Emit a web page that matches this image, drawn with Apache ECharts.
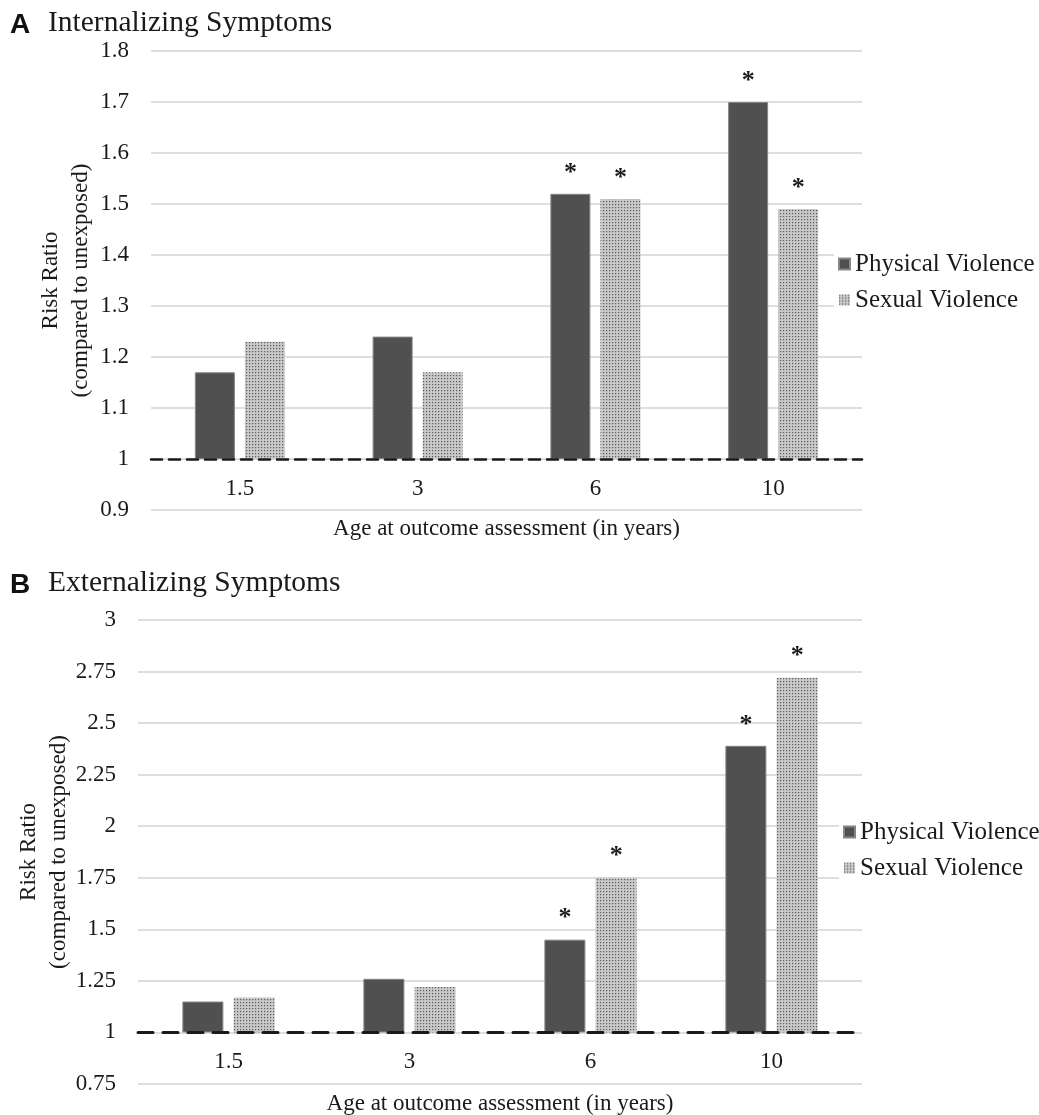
<!DOCTYPE html>
<html>
<head>
<meta charset="utf-8">
<script src="https://cdn.jsdelivr.net/npm/echarts@6/dist/echarts.min.js"></script>
<style>
html,body{margin:0;padding:0;background:#fff;}
#chart{width:1039px;height:1115px;}
</style>
</head>
<body>
<div id="chart"></div>
<script>
// ---------- data ----------
const categories = ['1.5', '3', '6', '10'];
const seriesNames = ['Physical Violence', 'Sexual Violence'];
const baseline = 1;

const intPhysical = [1.17, 1.24, 1.52, 1.70];
const intSexual   = [1.23, 1.17, 1.51, 1.49];
const intPhysicalSig = [false, false, true, true];
const intSexualSig   = [false, false, true, true];
const intTicks = ['0.9', '1', '1.1', '1.2', '1.3', '1.4', '1.5', '1.6', '1.7', '1.8'];

const extPhysical = [1.15, 1.26, 1.45, 2.39];
const extSexual   = [1.17, 1.22, 1.75, 2.72];
const extPhysicalSig = [false, false, true, true];
const extSexualSig   = [false, false, true, true];
const extTicks = ['0.75', '1', '1.25', '1.5', '1.75', '2', '2.25', '2.5', '2.75', '3'];

// ---------- helpers ----------
const SERIF = '"Liberation Serif", "Times New Roman", serif';
const SANS = '"Liberation Sans", Arial, sans-serif';

function makePattern() {
  const c = document.createElement('canvas');
  c.width = 3; c.height = 3;
  const g = c.getContext('2d');
  g.fillStyle = '#c9c9c9'; g.fillRect(0, 0, 3, 3);
  g.fillStyle = '#adadad'; g.fillRect(1, 0, 1, 1); g.fillRect(0, 1, 1, 1);
  g.fillStyle = '#5e5e5e'; g.fillRect(0, 0, 1, 1);
  return c;
}
const pattern = { image: makePattern(), repeat: 'repeat' };

function shift(arr) { return arr.map(v => +(v - baseline).toFixed(4)); }
function tickFormatter(ticks, min, interval) {
  return v => ticks[Math.round((v - min) / interval)] ?? '';
}
function starLabel(sig) {
  return {
    show: true, position: 'top', distance: 8,
    formatter: p => (sig[p.dataIndex] ? '*' : ''),
    fontFamily: SERIF, fontSize: 26, fontWeight: 'bold', color: '#1a1a1a'
  };
}

const intMin = -0.1, intMax = 0.8, intInt = 0.1;
const extMin = -0.25, extMax = 2, extInt = 0.25;

const chart = echarts.init(document.getElementById('chart'), null, { renderer: 'canvas' });

function xAxisCfg(gridIndex, dash, width, nameGap) {
  return {
    type: 'category', gridIndex, data: categories, position: 'bottom',
    axisTick: { show: false },
    axisLine: { show: true, onZero: false, lineStyle: { color: '#1a1a1a', type: dash, width } },
    axisLabel: { fontFamily: SERIF, fontSize: 23, color: '#1a1a1a', margin: 18 },
    name: 'Age at outcome assessment (in years)',
    nameLocation: 'middle', nameGap, nameMoveOverlap: false,
    nameTextStyle: { fontFamily: SERIF, fontSize: 23, color: '#1a1a1a' },
    z: 5
  };
}
function yAxisCfg(gridIndex, min, max, interval, ticks, nameGap) {
  return {
    type: 'value', gridIndex, min, max, interval,
    axisLine: { show: false }, axisTick: { show: false },
    splitLine: { lineStyle: { color: '#d3d3d3', width: 1.6 } },
    axisLabel: { fontFamily: SERIF, fontSize: 23, color: '#1a1a1a', margin: 22,
                 formatter: tickFormatter(ticks, min, interval) },
    name: 'Risk Ratio\n(compared to unexposed)',
    nameLocation: 'middle', nameGap, nameRotate: 90, nameMoveOverlap: false,
    nameTextStyle: { fontFamily: SERIF, fontSize: 23, color: '#1a1a1a', lineHeight: 30 }
  };
}
function legendCfg(top, left) {
  return {
    data: seriesNames, orient: 'vertical', left, top,
    icon: 'rect', itemWidth: 11, itemHeight: 11, itemGap: 10,
    backgroundColor: '#fff', padding: [2, 4, 2, 4],
    textStyle: { fontFamily: SERIF, fontSize: 25, color: '#1a1a1a', lineHeight: 26 }
  };
}
function physicalStyle() {
  return { color: '#505050', borderColor: '#858585', borderWidth: 1 };
}

chart.setOption({
  animation: false,
  backgroundColor: '#fff',
  grid: [
    { left: 151, top: 51, width: 711, height: 459, outerBoundsMode: 'none', containLabel: false },
    { left: 138, top: 620, width: 724, height: 464, outerBoundsMode: 'none', containLabel: false }
  ],
  xAxis: [xAxisCfg(0, [11, 7], 2.6, 58), xAxisCfg(1, [15, 10], 3, 60)],
  yAxis: [
    yAxisCfg(0, intMin, intMax, intInt, intTicks, 55),
    yAxisCfg(1, extMin, extMax, extInt, extTicks, 64)
  ],
  legend: [legendCfg(249, 834), legendCfg(817, 839)],
  series: [
    { name: seriesNames[0], type: 'bar', xAxisIndex: 0, yAxisIndex: 0,
      data: shift(intPhysical), barWidth: 40, barGap: '25%',
      itemStyle: physicalStyle(), label: starLabel(intPhysicalSig) },
    { name: seriesNames[1], type: 'bar', xAxisIndex: 0, yAxisIndex: 0,
      data: shift(intSexual), barWidth: 40, barGap: '25%',
      itemStyle: { color: pattern }, label: starLabel(intSexualSig) },
    { name: seriesNames[0], type: 'bar', xAxisIndex: 1, yAxisIndex: 1,
      data: shift(extPhysical), barWidth: 41, barGap: '25%',
      itemStyle: physicalStyle(), label: starLabel(extPhysicalSig) },
    { name: seriesNames[1], type: 'bar', xAxisIndex: 1, yAxisIndex: 1,
      data: shift(extSexual), barWidth: 41, barGap: '25%',
      itemStyle: { color: pattern }, label: starLabel(extSexualSig) }
  ],
  graphic: [
    { type: 'text', left: 10, top: 11, style: { text: 'A', font: 'bold 28px ' + SANS, fill: '#111' } },
    { type: 'text', left: 48, top: 8, style: { text: 'Internalizing Symptoms', font: '29.5px ' + SERIF, fill: '#1a1a1a' } },
    { type: 'text', left: 10, top: 571, style: { text: 'B', font: 'bold 28px ' + SANS, fill: '#111' } },
    { type: 'text', left: 48, top: 568, style: { text: 'Externalizing Symptoms', font: '29.5px ' + SERIF, fill: '#1a1a1a' } }
  ]
});

// Move each category axis up so it crosses the value axis at the baseline (risk ratio 1)
const offsets = [[0, intMin], [1, extMin]].map(([i, mn]) => {
  const yBase = chart.convertToPixel({ yAxisIndex: i }, 0);
  const yMin = chart.convertToPixel({ yAxisIndex: i }, mn);
  return yBase - yMin;
});
chart.setOption({ xAxis: [{ offset: offsets[0] }, { offset: offsets[1] }] });
</script>
</body>
</html>
